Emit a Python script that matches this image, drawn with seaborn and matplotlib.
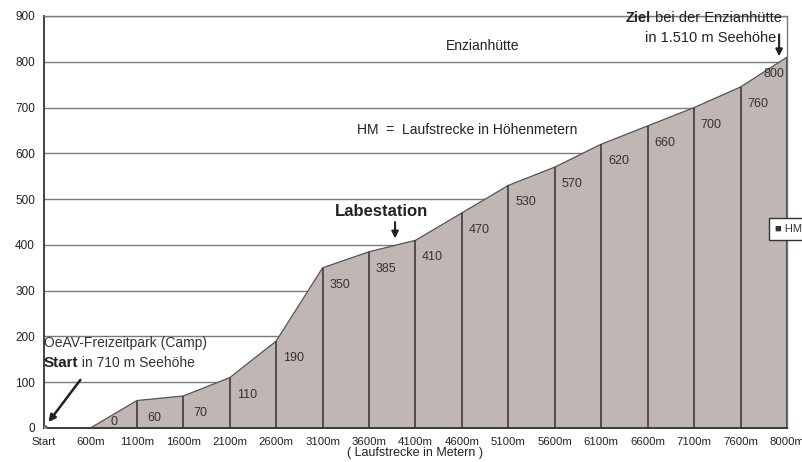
import numpy as np
import pandas as pd
import matplotlib
matplotlib.use('Agg')
import matplotlib.pyplot as plt
import seaborn as sns
from matplotlib.transforms import offset_copy

distance = ['Start', '600m', '1100m', '1600m', '2100m', '2600m', '3100m', '3600m',
            '4100m', '4600m', '5100m', '5600m', '6100m', '6600m', '7100m', '7600m', '8000m']
hm = [0, 0, 60, 70, 110, 190, 350, 385, 410, 470, 530, 570, 620, 660, 700, 745, 810]
hm_labels = ['', '0', '60', '70', '110', '190', '350', '385', '410', '470', '530',
             '570', '620', '660', '700', '760', '800']
y_ticks = [0, 100, 200, 300, 400, 500, 600, 700, 800, 900]

df = pd.DataFrame({'distance': distance, 'hm': hm, 'label': hm_labels})
df['pos'] = np.arange(len(df))

sns.set_style('white')
plt.rcParams['font.family'] = ['Liberation Sans', 'DejaVu Sans']

fig = plt.figure(figsize=(8.03, 4.62), dpi=100)
ax = fig.add_axes([44 / 803, 34 / 462, 743 / 803, 412 / 462])

fill_col = '#c0b6b3'
edge_col = '#333333'
txt_col = '#222222'

for yv in y_ticks[1:]:
    ax.axhline(yv, color='#7a7a7a', lw=1, zorder=0)

ax.fill_between(df['pos'], 0, df['hm'], color=fill_col, zorder=1)
sns.lineplot(data=df, x='pos', y='hm', color='#555555', lw=0.9, ax=ax, zorder=2)
ax.vlines(df['pos'], 0, df['hm'], color=edge_col, lw=1.1, zorder=3)
ax.plot([0], [0], marker='o', ms=4, mfc='#9a9a9a', mec='#555555', zorder=4)

# value labels, shifted a few pixels below the profile line
lab_tr = offset_copy(ax.transData, fig=fig, x=0, y=-17, units='dots')
for p, v, lab in zip(df['pos'], df['hm'], df['label']):
    if not lab:
        continue
    if p == len(df) - 1:
        ax.text(p - 0.05, v, lab, ha='right', va='center', fontsize=9, color='#333333',
                transform=lab_tr)
    elif v == 0:
        ax.text(p + 0.5, 14, lab, ha='center', va='center', fontsize=9, color='#333333')
    else:
        ax.text(p + 0.37, v, lab, ha='center', va='center', fontsize=9, color='#333333',
                transform=lab_tr)

ax.set_xlim(0, len(df) - 1)
ax.set_ylim(0, 900)
ax.set_xticks(df['pos'])
ax.set_xticklabels(df['distance'], fontsize=8.2, color=txt_col)
ax.set_yticks(y_ticks)
ax.set_yticklabels([str(v) for v in y_ticks], fontsize=8.5, color=txt_col)
ax.tick_params(axis='both', length=4, width=1, color=edge_col, direction='out', pad=2.5)
ax.set_xlabel('( Laufstrecke in Metern )', fontsize=9, color=txt_col, labelpad=0)
ax.set_ylabel('')

for s in ['left', 'bottom']:
    ax.spines[s].set_color(edge_col)
    ax.spines[s].set_linewidth(1.3)
for s in ['top', 'right']:
    ax.spines[s].set_color('#7a7a7a')
    ax.spines[s].set_linewidth(1)

# annotations
ax.text(9.45, 835, 'Enzianhütte', ha='center', va='center', fontsize=10, color=txt_col)
ax.text(6.74, 652, 'HM  =  Laufstrecke in Höhenmetern', ha='left', va='center',
        fontsize=10, color=txt_col)
ax.text(7.26, 474, 'Labestation', ha='center', va='center', fontsize=12,
        fontweight='bold', color=txt_col)
ax.annotate('', xy=(7.56, 408), xytext=(7.56, 456),
            arrowprops=dict(arrowstyle='-|>', color=txt_col, lw=1.5, mutation_scale=10))

fig.canvas.draw()
renderer = fig.canvas.get_renderer()

t_bei = ax.text(15.89, 895, ' bei der Enzianhütte', ha='right', va='center', fontsize=10.5,
                color=txt_col)
w = t_bei.get_window_extent(renderer).width
ax.text(15.89, 895, 'Ziel', ha='right', va='center', fontsize=10.5, fontweight='bold',
        color=txt_col, transform=offset_copy(ax.transData, fig=fig, x=-w, units='dots'))
ax.text(15.76, 853, 'in 1.510 m Seehöhe', ha='right', va='center', fontsize=10.5,
        color=txt_col)
ax.annotate('', xy=(15.83, 806), xytext=(15.83, 866),
            arrowprops=dict(arrowstyle='-|>', color=txt_col, lw=1.5, mutation_scale=10))

ax.text(0.0, 186, 'OeAV-Freizeitpark (Camp)', ha='left', va='center', fontsize=10,
        color='#333333')
t_start = ax.text(0.0, 141, 'Start', ha='left', va='center', fontsize=11, fontweight='bold',
                  color=txt_col)
w = t_start.get_window_extent(renderer).width
ax.text(0.0, 141, ' in 710 m Seehöhe', ha='left', va='center', fontsize=10, color='#333333',
        transform=offset_copy(ax.transData, fig=fig, x=w, units='dots'))
ax.annotate('', xy=(0.06, 8), xytext=(0.82, 110),
            arrowprops=dict(arrowstyle='-|>', color=txt_col, lw=1.8, mutation_scale=10))

# title sits mostly above the canvas, as in the original
fig.text(0.5, 1.018, 'Streckenprofil Enzianhütten-Berglauf', ha='center', va='center',
         fontsize=13, fontweight='bold', color='#333333')

fig.text(775 / 803, 1 - 229 / 462, '\u25A0 HM', ha='left', va='center', fontsize=8,
         color='#333333',
         bbox=dict(boxstyle='square,pad=0.55', fc='white', ec='#333333', lw=1))

fig.savefig('out.png', dpi=100)
